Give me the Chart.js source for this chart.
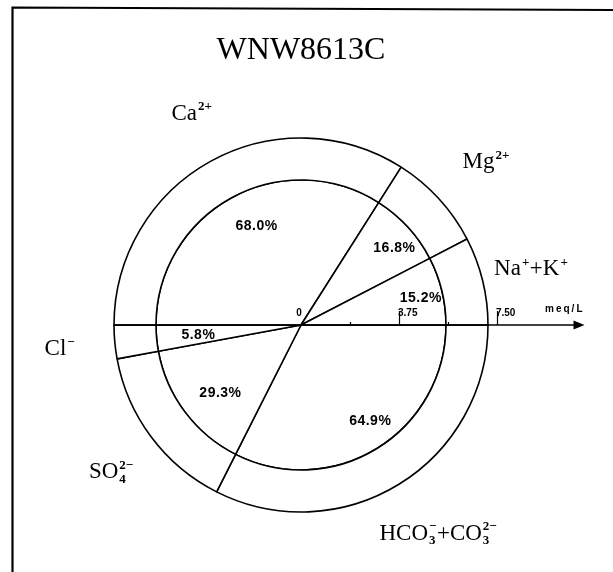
<!DOCTYPE html>
<html><head><meta charset="utf-8">
<script src="https://cdn.jsdelivr.net/npm/chart.js@4.4.1/dist/chart.umd.min.js"></script>
<style>html,body{margin:0;padding:0;background:#fff;} canvas{display:block;}</style>
</head><body>
<canvas id="c" width="613" height="572"></canvas>
<script>
// ---- data ----
const chartTitle = 'WNW8613C';
const cations = ['Ca^{2+}', 'Mg^{2+}', 'Na^{+}+K^{+}'];
const cationPct = [68.0, 16.8, 15.2];
const anions = ['Cl^{−}', 'SO_{4}^{2−}', 'HCO_{3}^{−}+CO_{3}^{2−}'];
const anionPct = [5.8, 29.3, 64.9];
const axisTicks = [1.875, 3.75, 5.625, 7.5];
const axisLabelValues = [0, 3.75, 7.5];
const axisTickLabels = ['0', '3.75', '7.50'];
const axisUnit = 'meq/L';
const axisRange = [-11.52, 11.52];
const axisEnd = 10.85;

// pie order: clockwise from 3 o'clock (anions in lower half, cations in upper half)
const pieLabels = anions.slice().reverse().concat(cations);
const pieValues = anionPct.slice().reverse().concat(cationPct);

function parseRich(s){
  const parts=[]; const re=/([^_^]+)|_\{([^}]*)\}|\^\{([^}]*)\}/g; let m;
  while((m=re.exec(s))){
    if(m[1]!==undefined) parts.push({t:m[1]});
    else if(m[2]!==undefined) parts.push({sub:m[2]});
    else {
      const last=parts[parts.length-1];
      if(last && last.sub!==undefined && last.sup===undefined) last.sup=m[3];
      else parts.push({sup:m[3]});
    }
  }
  return parts;
}
function drawRich(ctx, s, cx, cy, size){
  const parts=parseRich(s);
  const base = size+'px "Liberation Serif"';
  const small = 'bold 13px "Liberation Serif"';
  let total=0;
  parts.forEach(p=>{
    if(p.t!==undefined){ctx.font=base; p.w=ctx.measureText(p.t).width;}
    else {ctx.font=small; p.w=Math.max(ctx.measureText(p.sub||'').width, ctx.measureText(p.sup||'').width)+1.5;}
    total+=p.w;
  });
  let x=cx-total/2; const by=cy+size*0.33;
  ctx.fillStyle='#000'; ctx.textAlign='left'; ctx.textBaseline='alphabetic';
  parts.forEach(p=>{
    if(p.t!==undefined){ctx.font=base; ctx.fillText(p.t,x,by);}
    else {
      ctx.font=small;
      if(p.sup!==undefined) ctx.fillText(p.sup,x+1,by-size*0.4);
      if(p.sub!==undefined) ctx.fillText(p.sub,x+1,by+size*0.2);
    }
    x+=p.w;
  });
}

const framePlugin = {
  id:'frame',
  beforeDraw(chart){
    const ctx=chart.ctx; ctx.save();
    ctx.fillStyle='#fff'; ctx.fillRect(0,0,chart.width,chart.height);
    ctx.strokeStyle='#000'; ctx.lineWidth=2.2;
    ctx.beginPath(); ctx.moveTo(12.5,chart.height); ctx.lineTo(12.5,7.5); ctx.lineTo(chart.width,10); ctx.stroke();
    ctx.restore();
  }
};

const annotPlugin = {
  id:'annot',
  afterDatasetsDraw(chart){
    const ctx=chart.ctx; const sx=chart.scales.x;
    const outerMeta=chart.getDatasetMeta(0), innerMeta=chart.getDatasetMeta(1);
    const a0=outerMeta.data[0];
    const cx=a0.x, cy=a0.y, R=a0.outerRadius, r=innerMeta.data[0].outerRadius;
    ctx.save();
    // axis
    const xEnd=sx.getPixelForValue(axisEnd);
    ctx.strokeStyle='#000'; ctx.lineWidth=1.5;
    ctx.beginPath(); ctx.moveTo(cx-R,cy); ctx.lineTo(xEnd-8,cy); ctx.stroke();
    ctx.fillStyle='#000';
    ctx.beginPath(); ctx.moveTo(xEnd,cy); ctx.lineTo(xEnd-11,cy-4.5); ctx.lineTo(xEnd-11,cy+4.5); ctx.closePath(); ctx.fill();
    ctx.lineWidth=1.2;
    axisTicks.forEach(v=>{
      const px=Math.round(sx.getPixelForValue(v))+0.5;
      const major=axisLabelValues.includes(v);
      ctx.beginPath(); ctx.moveTo(px,cy); ctx.lineTo(px,cy-(major?14:3)); ctx.stroke();
    });
    ctx.font='bold 10px "Liberation Sans"'; ctx.textBaseline='alphabetic';
    axisLabelValues.forEach((v,i)=>{
      const px=sx.getPixelForValue(v);
      if(v===0){ctx.textAlign='center'; ctx.fillText(axisTickLabels[i],px-2,cy-9.5);}
      else {ctx.textAlign='left'; ctx.fillText(axisTickLabels[i],px-1,cy-9.5);}
    });
    ctx.font='bold 10px "Liberation Sans"';
    ctx.letterSpacing='2px';
    const uw=ctx.measureText(axisUnit).width;
    ctx.textAlign='left'; ctx.fillText(axisUnit,xEnd-uw,cy-13);
    ctx.letterSpacing='0px';
    // percent labels & ion labels (order: HCO3, SO4, Cl, Ca, Mg, Na+K)
    const ionShift=[10,5,1,8,6,-6];
    innerMeta.data.forEach((arc,i)=>{
      const mid=(arc.startAngle+arc.endAngle)/2;
      ctx.font='bold 14px "Liberation Sans"'; ctx.textAlign='center'; ctx.textBaseline='middle'; ctx.fillStyle='#000';
      ctx.letterSpacing='0.5px';
      const pr=r*0.78;
      ctx.fillText(pieValues[i].toFixed(1)+'%', cx+pr*Math.cos(mid)+10, cy+pr*Math.sin(mid));
      ctx.letterSpacing='0px';
      const lr=R*1.3;
      drawRich(ctx, pieLabels[i], cx+lr*Math.cos(mid)+ionShift[i], cy+lr*Math.sin(mid), 23);
    });
    ctx.restore();
  }
};

new Chart(document.getElementById('c'), {
  type:'pie',
  data:{
    labels:pieLabels,
    datasets:[
      {data:pieValues, weight:42, backgroundColor:'#fff', borderColor:'#000', borderWidth:1.6},
      {data:pieValues, weight:145, backgroundColor:'#fff', borderColor:'#000', borderWidth:1.6}
    ]
  },
  options:{
    responsive:false, animation:false, events:[],
    rotation:90, radius:187,
    layout:{padding:{left:0,right:11,top:0,bottom:0}},
    plugins:{
      legend:{display:false}, tooltip:{enabled:false},
      title:{display:true, text:chartTitle, color:'#000',
        font:{family:'"Liberation Serif"', size:32, weight:'normal', lineHeight:1.2},
        padding:{top:31,bottom:8.6}}
    },
    scales:{ x:{type:'linear', position:'center', min:axisRange[0], max:axisRange[1], display:false} }
  },
  plugins:[framePlugin, annotPlugin]
});
</script>
</body></html>
